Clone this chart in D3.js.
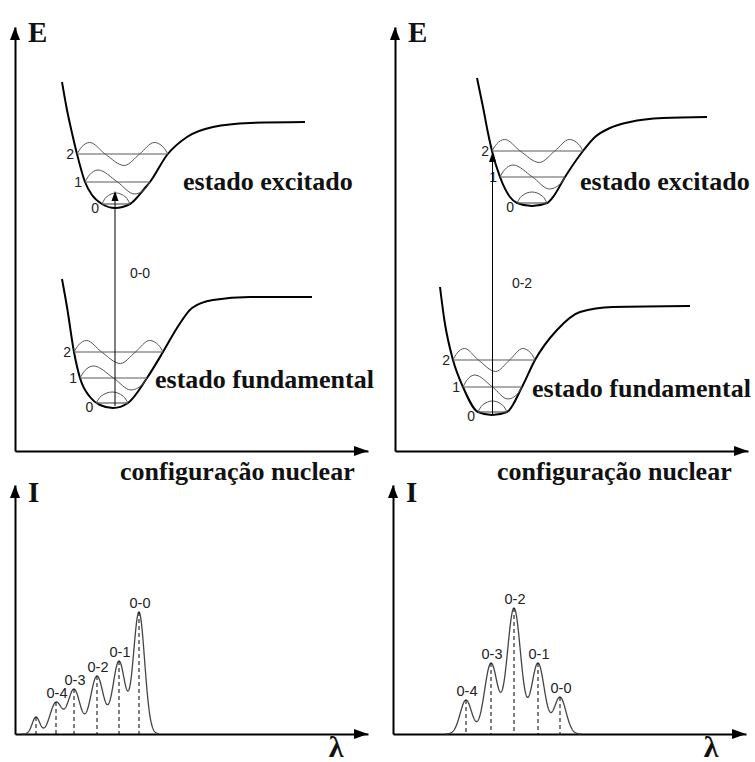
<!DOCTYPE html>
<html>
<head>
<meta charset="utf-8">
<script src="https://cdn.jsdelivr.net/npm/d3@7"></script>
<style>
  html, body { margin: 0; padding: 0; background: #fff; }
  svg { display: block; }
  .serif { font-family: "Liberation Serif", "Times New Roman", serif; font-weight: bold; fill: #111; }
  .sans  { font-family: "Liberation Sans", Arial, sans-serif; fill: #222; }
</style>
</head>
<body>
<svg id="chart" width="755" height="762"></svg>
<script>
// ---------- potential energy curves: [nuclear coordinate, energy] ----------
const leftExcitedCurve = [[4.7,36.9],[5.2,34.1],[5.7,31.8],[6.2,29.7],[7.0,26.9],[7.7,25.6],[8.7,24.7],[10.0,24.3],
  [11.5,24.7],[13.0,26.3],[13.5,26.9],[15.2,29.6],[17.2,31.4],[19.8,32.4],[23.5,32.8],[29.0,32.9]];
const leftGroundCurve = [[4.7,17.2],[5.2,14.4],[5.9,9.9],[6.5,7.3],[7.5,5.4],[8.5,4.6],[9.8,4.3],
  [11.3,4.8],[13.2,7.3],[14.8,9.9],[16.2,12.3],[17.7,14.3],[19.8,15.1],[23.5,15.4],[29.7,15.4]];
const rightExcitedCurve = [[8.2,37.3],[8.8,34.4],[9.3,31.8],[9.7,30.0],[10.5,27.4],[11.5,25.4],[12.2,24.8],[13.7,24.5],
  [15.2,24.8],[15.8,25.4],[17.0,27.4],[18.8,30.0],[20.0,31.4],[21.5,32.3],[23.5,32.9],[26.8,33.3],[31.2,33.4]];
const rightGroundCurve = [[4.5,16.4],[4.95,13.0],[5.8,9.1],[6.8,6.4],[8.3,3.9],[9.7,3.6],[11.2,3.9],
  [12.7,6.4],[14.0,9.1],[16.2,12.1],[18.5,13.9],[21.8,14.4],[29.5,14.5]];

// vibrational level energies (v = 0, 1, 2)
const leftExcitedLevels  = [24.7, 26.9, 29.7];
const leftGroundLevels   = [4.8, 7.3, 9.9];
const rightExcitedLevels = [24.8, 27.4, 30.0];
const rightGroundLevels  = [3.9, 6.4, 9.1];
const levelNames = ["0", "1", "2"];

// vibrational wavefunction outlines: [fraction across the level, relative amplitude]
const waveShapes = [
  [[0,0],[0.15,0.62],[0.5,1],[0.85,0.62],[1,0]],
  [[0,0],[0.07,0.6],[0.2,1],[0.5,0],[0.76,-1],[0.92,-0.6],[1,0]],
  [[0,0],[0.05,0.6],[0.14,1],[0.31,0],[0.52,-1],[0.69,0],[0.85,1],[0.95,0.6],[1,0]]
];
const waveAmplitudes = [1.1, 1.2, 1.15];

// vertical transitions: nuclear coordinate, start energy, end energy
const leftTransition  = { r: 10.0, from: 4.5, to: 26.0, name: "0-0" };
const rightTransition = { r: 9.75, from: 3.7, to: 29.9, name: "0-2" };

// ---------- emission spectra ----------
const leftBandPos     = [2.1, 4.1, 5.9, 8.2, 10.4, 12.4];
const leftBandInt     = [1.7, 3.2, 4.5, 5.8, 7.3, 12.2];
const leftBandWidth   = [0.38, 0.6, 0.62, 0.66, 0.62, 0.56];
const leftBandLabels  = ["", "0-4", "0-3", "0-2", "0-1", "0-0"];

const rightBandPos    = [7.3, 9.8, 12.1, 14.5, 16.7];
const rightBandInt    = [3.4, 7.1, 12.6, 7.1, 3.7];
const rightBandWidth  = [0.58, 0.65, 0.68, 0.65, 0.6];
const rightBandLabels = ["0-4", "0-3", "0-2", "0-1", "0-0"];

// ---------- scales ----------
const rScale   = d3.scaleLinear().domain([0, 35.3]).range([0, 353]);
const eScale   = d3.scaleLinear().domain([0, 42.4]).range([0, -424]);
const lamScale = d3.scaleLinear().domain([0, 35.3]).range([0, 353]);
const intScale = d3.scaleLinear().domain([0, 24.9]).range([0, -249]);

const svg = d3.select("#chart");

function arrowAxes(g, xScale, yScale) {
  const xEnd = xScale.range()[1], yEnd = yScale.range()[1];
  g.append("g").call(d3.axisBottom(xScale).tickValues([]).tickSizeOuter(0))
    .select(".domain").attr("stroke", "#000").attr("stroke-width", 2);
  g.append("g").call(d3.axisLeft(yScale).tickValues([]).tickSizeOuter(0))
    .select(".domain").attr("stroke", "#000").attr("stroke-width", 2);
  g.append("path").attr("fill", "#000")
    .attr("d", `M${xEnd},0 L${xEnd - 14},-5 L${xEnd - 14},5 Z`);
  g.append("path").attr("fill", "#000")
    .attr("d", `M0,${yEnd} L-5,${yEnd + 13} L5,${yEnd + 13} Z`);
}

// where a horizontal line at yPix meets the two walls of a drawn well
function crossings(pathNode, yPix) {
  const L = pathNode.getTotalLength();
  const pts = d3.range(0, 801).map(i => pathNode.getPointAtLength(L * i / 800));
  const iMin = d3.maxIndex(pts, p => p.y);
  let xl = pts[0].x, xr = pts[pts.length - 1].x;
  for (let i = 0; i < iMin; i++) {
    if (pts[i].y <= yPix && pts[i + 1].y >= yPix) {
      const t = (yPix - pts[i].y) / (pts[i + 1].y - pts[i].y || 1);
      xl = pts[i].x + t * (pts[i + 1].x - pts[i].x); break;
    }
  }
  for (let i = iMin; i < pts.length - 1; i++) {
    if (pts[i].y >= yPix && pts[i + 1].y <= yPix) {
      const t = (pts[i].y - yPix) / (pts[i].y - pts[i + 1].y || 1);
      xr = pts[i].x + t * (pts[i + 1].x - pts[i].x); break;
    }
  }
  return [xl, xr];
}

function well(g, curve, levels) {
  const line = d3.line().x(d => rScale(d[0])).y(d => eScale(d[1])).curve(d3.curveMonotoneX);
  const path = g.append("path").datum(curve).attr("d", line)
    .attr("fill", "none").attr("stroke", "#000").attr("stroke-width", 2);
  const node = path.node();
  const waveLine = d3.line().curve(d3.curveMonotoneX);
  levels.forEach((E, v) => {
    const y = eScale(E);
    const [xl, xr] = crossings(node, y);
    g.append("line").attr("x1", xl).attr("x2", xr).attr("y1", y).attr("y2", y)
      .attr("stroke", "#5a5a5a").attr("stroke-width", 1.2);
    const amp = eScale(0) - eScale(waveAmplitudes[v]);
    g.append("path")
      .attr("d", waveLine(waveShapes[v].map(([f, a]) => [xl + f * (xr - xl), y - a * amp])))
      .attr("fill", "none").attr("stroke", "#555").attr("stroke-width", 1);
    g.append("text").attr("class", "sans")
      .attr("x", xl - 3).attr("y", y + (v === 0 ? 4 : 0)).attr("dy", "0.35em")
      .attr("text-anchor", "end").attr("font-size", 14).text(levelNames[v]);
  });
}

function transition(g, t) {
  const x = rScale(t.r), y0 = eScale(t.from), y1 = eScale(t.to);
  g.append("line").attr("x1", x).attr("x2", x).attr("y1", y0).attr("y2", y1 + 8)
    .attr("stroke", "#000").attr("stroke-width", 1);
  g.append("path").attr("fill", "#000")
    .attr("d", `M${x},${y1} L${x - 3.5},${y1 + 10} L${x + 3.5},${y1 + 10} Z`);
}

function energyPanel(ox, oy, excited, exLevels, ground, grLevels, t, labelPos, exText, grText, cfgX) {
  const g = svg.append("g").attr("transform", `translate(${ox},${oy})`);
  arrowAxes(g, rScale, eScale);
  well(g, excited, exLevels);
  well(g, ground, grLevels);
  transition(g, t);
  g.append("text").attr("class", "sans").attr("font-size", 14)
    .attr("x", rScale(labelPos[0])).attr("y", eScale(labelPos[1])).attr("dy", "0.35em")
    .attr("text-anchor", "middle").text(t.name);
  svg.append("text").attr("class", "serif").attr("font-size", 29)
    .attr("x", ox + 13).attr("y", oy - 409).text("E");
  svg.append("text").attr("class", "serif").attr("font-size", 26)
    .attr("x", exText[0]).attr("y", exText[1]).text("estado excitado");
  svg.append("text").attr("class", "serif").attr("font-size", 26)
    .attr("x", grText[0]).attr("y", grText[1]).text("estado fundamental");
  svg.append("text").attr("class", "serif").attr("font-size", 26)
    .attr("x", cfgX).attr("y", 480).text("configuração nuclear");
}

// band amplitudes that give the listed peak intensities once overlapping bands are summed
function solveAmplitudes(pos, h, w) {
  let a = h.slice();
  for (let it = 0; it < 60; it++) {
    a = h.map((hi, i) => Math.max(0, hi - d3.sum(pos, (p, j) =>
      j === i ? 0 : a[j] * Math.exp(-((pos[i] - p) ** 2) / (2 * w[j] ** 2)))));
  }
  return a;
}

function spectrumPanel(ox, oy, pos, inten, widths, labels, lamX) {
  const g = svg.append("g").attr("transform", `translate(${ox},${oy})`);
  arrowAxes(g, lamScale, intScale);
  const amps = solveAmplitudes(pos, inten, widths);
  const total = x => d3.sum(pos, (p, j) => amps[j] * Math.exp(-((x - p) ** 2) / (2 * widths[j] ** 2)));
  const x0 = d3.min(pos, (p, i) => p - 3.6 * widths[i]);
  const x1 = d3.max(pos, (p, i) => p + 3.6 * widths[i]);
  const xs = d3.range(x0, x1 + 1e-9, 0.02);
  g.append("path").datum(xs)
    .attr("d", d3.line().x(x => lamScale(x)).y(x => intScale(total(x))))
    .attr("fill", "none").attr("stroke", "#444").attr("stroke-width", 1.3);
  pos.forEach((p, i) => {
    const top = intScale(total(p));
    g.append("line").attr("x1", lamScale(p)).attr("x2", lamScale(p))
      .attr("y1", top).attr("y2", 0)
      .attr("stroke", "#000").attr("stroke-width", 1).attr("stroke-dasharray", "4,3");
    if (labels[i]) {
      g.append("text").attr("class", "sans").attr("font-size", 14.5)
        .attr("x", lamScale(p) + 1).attr("y", top - 4)
        .attr("text-anchor", "middle").text(labels[i]);
    }
  });
  svg.append("text").attr("class", "serif").attr("font-size", 29)
    .attr("x", ox + 13).attr("y", oy - 232).text("I");
  svg.append("text").attr("class", "serif").attr("font-size", 30)
    .attr("x", lamX).attr("y", 757).attr("text-anchor", "middle").text("λ");
}

energyPanel(15, 451, leftExcitedCurve, leftExcitedLevels, leftGroundCurve, leftGroundLevels,
  leftTransition, [12.5, 17.8], [183, 190], [155, 388], 120);
energyPanel(395, 451, rightExcitedCurve, rightExcitedLevels, rightGroundCurve, rightGroundLevels,
  rightTransition, [12.7, 16.8], [580, 190], [532, 397], 497);

spectrumPanel(15, 734, leftBandPos, leftBandInt, leftBandWidth, leftBandLabels, 336);
spectrumPanel(393, 734, rightBandPos, rightBandInt, rightBandWidth, rightBandLabels, 711);
</script>
</body>
</html>
